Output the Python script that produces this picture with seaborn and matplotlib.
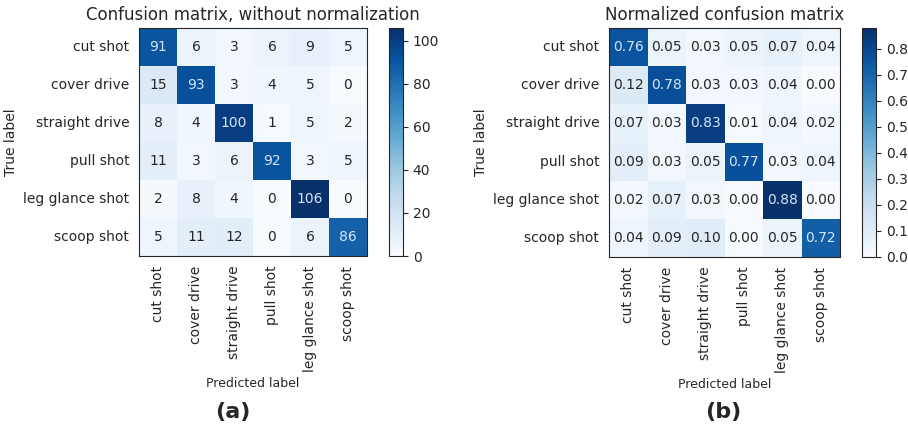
import numpy as np
import matplotlib
matplotlib.use('Agg')
import matplotlib.pyplot as plt
import seaborn as sns

# Data
classes = ['cut shot', 'cover drive', 'straight drive', 'pull shot', 'leg glance shot', 'scoop shot']

counts = np.array([
    [91, 6, 3, 6, 9, 5],
    [15, 93, 3, 4, 5, 0],
    [8, 4, 100, 1, 5, 2],
    [11, 3, 6, 92, 3, 5],
    [2, 8, 4, 0, 106, 0],
    [5, 11, 12, 0, 6, 86],
])

normalized = np.array([
    [0.76, 0.05, 0.03, 0.05, 0.07, 0.04],
    [0.12, 0.78, 0.03, 0.03, 0.04, 0.00],
    [0.07, 0.03, 0.83, 0.01, 0.04, 0.02],
    [0.09, 0.03, 0.05, 0.77, 0.03, 0.04],
    [0.02, 0.07, 0.03, 0.00, 0.88, 0.00],
    [0.04, 0.09, 0.10, 0.00, 0.05, 0.72],
])

sns.set_style('white')
plt.rcParams['font.family'] = ['DejaVu Sans']

W, H = 908, 441
fig = plt.figure(figsize=(W / 100, H / 100), dpi=100)


def px(x0, y0, x1, y1):
    return [x0 / W, 1 - y1 / H, (x1 - x0) / W, (y1 - y0) / H]


def draw(cm, fmt, title, ax_box, cb_box, cb_ticks, tag, tag_x):
    ax = fig.add_axes(px(*ax_box))
    cax = fig.add_axes(px(*cb_box))
    sns.heatmap(cm, ax=ax, cbar_ax=cax, cmap='Blues', annot=False,
                vmin=0, vmax=cm.max(), square=False,
                xticklabels=classes, yticklabels=classes)
    thresh = cm.max() / 2.
    for i in range(cm.shape[0]):
        for j in range(cm.shape[1]):
            ax.text(j + 0.5, i + 0.5, format(cm[i, j], fmt),
                    ha='center', va='center', fontsize=10,
                    color='#d2e6f7' if cm[i, j] > thresh else '#262626')
    ax.set_title(title, fontsize=12)
    ax.set_ylabel('True label', fontsize=10)
    ax.set_xlabel('Predicted label', fontsize=9)
    ax.tick_params(axis='both', length=3.5, width=0.8, labelsize=10, color='#222222')
    plt.setp(ax.get_xticklabels(), rotation=90)
    plt.setp(ax.get_yticklabels(), rotation=0)
    for s in ax.spines.values():
        s.set_visible(True)
        s.set_linewidth(0.8)
    cbar = ax.collections[0].colorbar
    cbar.set_ticks(cb_ticks)
    cbar.ax.tick_params(length=3.5, width=0.8, labelsize=10)
    cbar.outline.set_visible(True)
    cbar.outline.set_linewidth(0.8)
    fig.text(tag_x / W, 1 - 412 / H, tag, ha='center', va='center',
             fontsize=16, fontweight='bold')


draw(counts, 'd', 'Confusion matrix, without normalization',
     (139, 28, 367, 256), (389, 28, 403, 256),
     [0, 20, 40, 60, 80, 100], '(a)', 233)

draw(normalized, '.2f', 'Normalized confusion matrix',
     (609, 28, 840, 257), (862, 28, 876, 257),
     [0.0, 0.1, 0.2, 0.3, 0.4, 0.5, 0.6, 0.7, 0.8], '(b)', 723)

plt.savefig('out.png', dpi=100)
